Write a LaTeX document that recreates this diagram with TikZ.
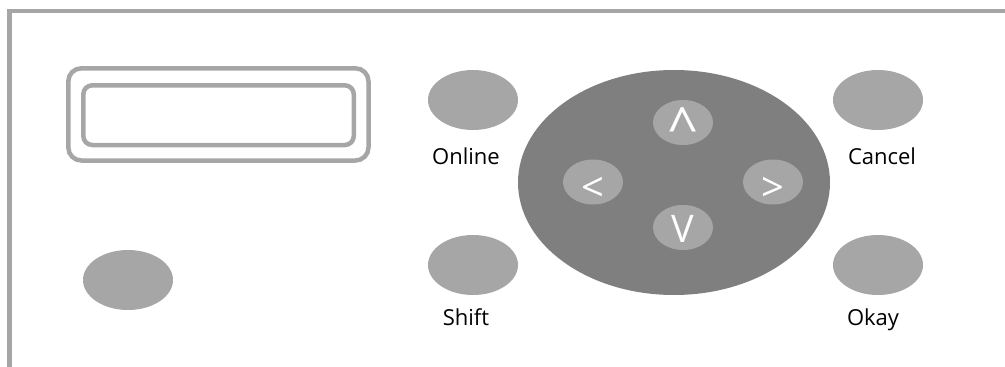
\documentclass[tikz,border=0pt]{standalone}
\usepackage{fontspec}
\setmainfont{Open Sans}
\usetikzlibrary{shapes.geometric}
\definecolor{btn}{HTML}{A6A6A6}
\definecolor{pad}{HTML}{7F7F7F}
\definecolor{frm}{HTML}{A6A6A6}
\newcommand{\glyph}[3]{\smash{\raisebox{#2}{\fontsize{#1}{#1}\selectfont #3}}}
\tikzset{
  btnshape/.style={ellipse, fill=btn, draw=none, inner sep=0pt, minimum width=90pt, minimum height=60pt},
  arrowbtn/.style={ellipse, fill=btn, draw=none, inner sep=0pt, minimum width=60pt, minimum height=45pt, text=white},
  lbl/.style={anchor=base, inner sep=0pt, font=\fontsize{22}{22}\selectfont},
  frameline/.style={draw=frm, line width=4.5pt},
  lcdbox/.style={draw=frm, line width=4.5pt}
}
\begin{document}
\begin{tikzpicture}[x=1pt,y=-1pt]
\useasboundingbox (0,0) rectangle (1005,367);
% frame
\coordinate (ftr) at (1005,11);
\coordinate (ftl) at (9.5,11);
\coordinate (fbl) at (9.5,367);
\draw[frameline] (ftr) -- (ftl) -- (fbl);
% display
\draw[lcdbox, rounded corners=13pt] (68.3,68.3) rectangle (368.5,160.5);
\draw[lcdbox, rounded corners=9pt] (83.3,85.3) rectangle (353.8,145);
% buttons
\node[btnshape] (power) at (128,280) {};
\node[btnshape] (online) at (473,100) {};
\node[btnshape] (shift) at (473,265) {};
\node[btnshape] (cancel) at (878,100) {};
\node[btnshape] (okay) at (878,265) {};
\node[lbl] (onlinel) at (466,164) {Online};
\node[lbl] (shiftl) at (466,325) {Shift};
\node[lbl] (cancell) at (882,164) {Cancel};
\node[lbl] (okayl) at (873,325) {Okay};
% navigation pad
\node[ellipse, fill=pad, draw=none, inner sep=0pt, minimum width=312pt, minimum height=225pt] (pad) at (674,182.5) {};
\node[arrowbtn] (up) at (683,122.5) {\glyph{54}{-23.5pt}{\textasciicircum}};
\node[arrowbtn] (down) at (683,227.5) {\glyph{38}{-14.5pt}{V}};
\node[arrowbtn] (left) at (593,182) {\glyph{40}{-19.2pt}{<}};
\node[arrowbtn] (right) at (773,182) {\glyph{40}{-19.2pt}{>}};
\end{tikzpicture}
\end{document}
